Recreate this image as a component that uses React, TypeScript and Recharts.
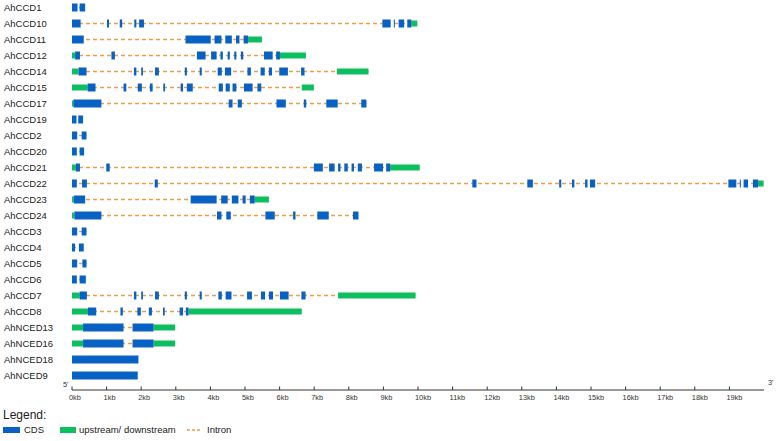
import React from "react";
import { ComposedChart, Line, XAxis, YAxis, Label } from "recharts";

const FONT = "Arial, 'Liberation Sans', Helvetica, sans-serif";
const CDS_COLOR = "#0862C4";
const UTR_COLOR = "#0DBE5E";
const INTRON_COLOR = "#F09C48";

const genes = [
  "AhCCD1", "AhCCD10", "AhCCD11", "AhCCD12", "AhCCD14", "AhCCD15", "AhCCD17", "AhCCD19",
  "AhCCD2", "AhCCD20", "AhCCD21", "AhCCD22", "AhCCD23", "AhCCD24", "AhCCD3", "AhCCD4",
  "AhCCD5", "AhCCD6", "AhCCD7", "AhCCD8", "AhNCED13", "AhNCED16", "AhNCED18", "AhNCED9",
];

// CDS segments (kb), aligned with genes
const cds: number[][][] = [
  [[0, 0.16], [0.22, 0.38]],
  [[0, 0.25], [1.01, 1.07], [1.38, 1.45], [1.8, 1.86], [1.94, 2.08], [8.97, 9.21], [9.3, 9.33], [9.44, 9.6], [9.69, 9.81]],
  [[0, 0.34], [3.28, 4.01], [4.12, 4.32], [4.43, 4.62], [4.74, 4.84], [4.96, 5.09]],
  [[0.09, 0.23], [1.14, 1.24], [3.61, 3.86], [4.02, 4.18], [4.29, 4.36], [4.5, 4.56], [4.69, 4.75], [4.88, 4.95], [5.55, 5.8], [5.9, 6.01]],
  [[0.19, 0.42], [1.79, 1.86], [2.0, 2.05], [2.4, 2.51], [3.26, 3.32], [3.69, 3.75], [4.21, 4.33], [4.42, 4.6], [5.07, 5.17], [5.45, 5.57], [5.69, 5.78], [5.99, 6.24], [6.62, 6.72]],
  [[0.45, 0.68], [1.49, 1.57], [1.9, 2.02], [2.25, 2.33], [2.64, 2.69], [3.14, 3.21], [3.32, 3.49], [4.24, 4.36], [4.44, 4.56], [4.64, 4.75], [4.97, 5.22], [5.36, 5.47]],
  [[0.04, 0.85], [4.53, 4.64], [4.79, 4.91], [5.91, 6.18], [6.7, 6.77], [7.35, 7.68], [8.36, 8.51]],
  [[0, 0.13], [0.18, 0.32]],
  [[0, 0.15], [0.28, 0.42]],
  [[0, 0.14], [0.22, 0.35]],
  [[0.11, 0.23], [0.99, 1.09], [6.99, 7.25], [7.43, 7.59], [7.69, 7.76], [7.87, 7.97], [8.08, 8.15], [8.26, 8.38], [8.73, 8.99], [9.08, 9.2]],
  [[0, 0.14], [0.29, 0.43], [2.39, 2.48], [11.57, 11.69], [13.16, 13.32], [14.08, 14.14], [14.45, 14.52], [14.83, 14.9], [14.97, 15.12], [18.97, 19.2], [19.3, 19.33], [19.41, 19.54], [19.68, 19.83]],
  [[0.05, 0.38], [3.43, 4.18], [4.31, 4.5], [4.62, 4.81], [4.93, 5.02], [5.14, 5.28]],
  [[0.07, 0.85], [4.19, 4.32], [4.46, 4.59], [5.59, 5.86], [6.39, 6.46], [7.09, 7.42], [8.12, 8.28]],
  [[0, 0.15], [0.28, 0.42]],
  [[0, 0.09], [0.2, 0.34]],
  [[0, 0.15], [0.3, 0.42]],
  [[0, 0.14], [0.22, 0.4]],
  [[0.22, 0.43], [1.79, 1.86], [2.0, 2.05], [2.4, 2.51], [3.26, 3.32], [3.69, 3.75], [4.23, 4.33], [4.44, 4.61], [5.06, 5.2], [5.46, 5.58], [5.69, 5.81], [6.01, 6.26], [6.63, 6.75]],
  [[0.46, 0.7], [1.4, 1.47], [1.89, 1.99], [2.22, 2.31], [2.63, 2.68], [3.11, 3.21], [3.29, 3.37]],
  [[0.32, 1.49], [1.75, 2.36]],
  [[0.32, 1.49], [1.75, 2.36]],
  [[0, 1.92]],
  [[0, 1.9]],
];

// upstream / downstream segments (kb), aligned with genes
const utr: number[][][] = [
  [],
  [[9.81, 9.98]],
  [[5.09, 5.49]],
  [[0, 0.09], [6.01, 6.76]],
  [[0, 0.19], [7.66, 8.57]],
  [[0, 0.45], [6.64, 6.99]],
  [[0, 0.04]],
  [],
  [],
  [],
  [[0, 0.11], [9.2, 10.05]],
  [[19.83, 19.99]],
  [[0, 0.05], [5.28, 5.69]],
  [[0, 0.07]],
  [],
  [],
  [],
  [],
  [[0, 0.22], [7.69, 9.93]],
  [[0, 0.46], [3.37, 6.64]],
  [[0, 0.32], [2.36, 2.98]],
  [[0, 0.32], [2.36, 2.98]],
  [],
  [],
];

const kbTicks = [0, 1, 2, 3, 4, 5, 6, 7, 8, 9, 10, 11, 12, 13, 14, 15, 16, 17, 18, 19];
const rowTicks = genes.map((_, i) => i);

const GeneTick = (props: any) => {
  const { y, payload } = props;
  return (
    <text x={4} y={y} dy="0.35em" fontSize={9.5} fontFamily={FONT} fill="#222">
      {genes[payload.value]}
    </text>
  );
};

const KbTick = (props: any) => {
  const { x, y, payload } = props;
  return (
    <g>
      <line x1={x} x2={x} y1={y - 3.5} y2={y} stroke="#333" strokeWidth={1} />
      <text x={x - 3} y={y + 9.5} fontSize={7.4} fontFamily={FONT} fill="#333" stroke="none">
        {`${payload.value}kb`}
      </text>
    </g>
  );
};

const EndLabels = (props: any) => {
  const vb = props.viewBox || {};
  return (
    <g>
      <text x={vb.x - 9} y={vb.y - 3} fontSize={7.4} fontFamily={FONT} fill="#333" stroke="none">5'</text>
      <text x={vb.x + vb.width + 4} y={vb.y - 5} fontSize={7.4} fontFamily={FONT} fill="#333" stroke="none">3'</text>
    </g>
  );
};

export default function App() {
  const introns: any[] = [];
  const utrLines: any[] = [];
  const cdsLines: any[] = [];
  genes.forEach((g, i) => {
    const all = [...cds[i], ...utr[i]];
    if (all.length > 1) {
      const s = Math.min(...all.map((a) => a[0]));
      const e = Math.max(...all.map((a) => a[1]));
      introns.push(
        <Line
          key={`in-${g}`}
          data={[{ x: s, y: i }, { x: e, y: i }]}
          dataKey="y"
          stroke={INTRON_COLOR}
          strokeWidth={1.5}
          strokeDasharray="4 3"
          dot={false}
          activeDot={false}
          legendType="none"
          isAnimationActive={false}
        />
      );
    }
    utr[i].forEach((seg, j) => {
      utrLines.push(
        <Line
          key={`utr-${g}-${j}`}
          data={[{ x: seg[0], y: i }, { x: seg[1], y: i }]}
          dataKey="y"
          stroke={UTR_COLOR}
          strokeWidth={6}
          dot={false}
          activeDot={false}
          legendType="none"
          isAnimationActive={false}
        />
      );
    });
    cds[i].forEach((seg, j) => {
      cdsLines.push(
        <Line
          key={`cds-${g}-${j}`}
          data={[{ x: seg[0], y: i }, { x: seg[1], y: i }]}
          dataKey="y"
          stroke={CDS_COLOR}
          strokeWidth={8}
          dot={false}
          activeDot={false}
          legendType="none"
          isAnimationActive={false}
        />
      );
    });
  });

  return (
    <div style={{ position: "absolute", left: 0, top: 0, width: 778, height: 441, fontFamily: FONT, background: "#fff" }}>
      <ComposedChart width={778} height={441} margin={{ top: 0, right: 14, bottom: 31, left: 0 }}>
        <XAxis
          type="number"
          dataKey="x"
          domain={[0, 20]}
          ticks={kbTicks}
          interval={0}
          allowDataOverflow
          height={20}
          tickSize={0}
          tickMargin={0}
          tickLine={false}
          axisLine={{ stroke: "#333", strokeWidth: 1 }}
          tick={<KbTick />}
        >
          <Label content={<EndLabels />} />
        </XAxis>
        <YAxis
          type="number"
          domain={[-0.46875, 23.90625]}
          reversed
          ticks={rowTicks}
          interval={0}
          allowDataOverflow
          width={72}
          axisLine={false}
          tickLine={false}
          tick={<GeneTick />}
        />
        {introns}
        {utrLines}
        {cdsLines}
      </ComposedChart>
      <div style={{ position: "absolute", left: 3, top: 408, fontSize: 12, color: "#222", lineHeight: "14px" }}>Legend:</div>
      <div style={{ position: "absolute", left: 3, top: 427, width: 17, height: 6, background: CDS_COLOR }} />
      <div style={{ position: "absolute", left: 24, top: 424, fontSize: 9.5, color: "#222", lineHeight: "12px" }}>CDS</div>
      <div style={{ position: "absolute", left: 60, top: 427, width: 16, height: 6, background: UTR_COLOR }} />
      <div style={{ position: "absolute", left: 79, top: 424, fontSize: 9.5, color: "#222", lineHeight: "12px" }}>upstream/ downstream</div>
      <svg style={{ position: "absolute", left: 187, top: 427 }} width={14} height={6}>
        <line x1={0} x2={14} y1={3} y2={3} stroke={INTRON_COLOR} strokeWidth={1.5} strokeDasharray="3 2" />
      </svg>
      <div style={{ position: "absolute", left: 207, top: 424, fontSize: 9.5, color: "#222", lineHeight: "12px" }}>Intron</div>
    </div>
  );
}
